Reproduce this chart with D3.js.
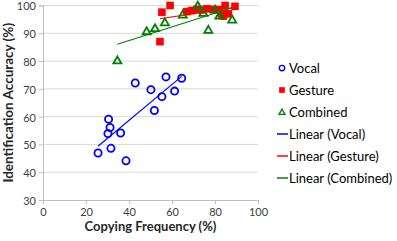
<!DOCTYPE html>
<html>
<head>
<meta charset="utf-8">
<script src="https://cdn.jsdelivr.net/npm/d3@7"></script>
<style>
  body { margin: 0; background: #fff; }
  svg text { font-family: "Lato", "Open Sans", sans-serif; }
</style>
</head>
<body>
<div id="chart"></div>
<script>
// copying frequency (%) vs identification accuracy (%)
const vocalX = [42.9, 50.2, 57.2, 55.3, 51.8, 61.2, 64.5, 30.5, 31.2, 30.2, 36.1, 31.6, 25.6, 38.6];
const vocalY = [72.1, 69.7, 74.3, 67.2, 62.2, 69.2, 73.8, 59.1, 56.1, 53.9, 54.1, 48.6, 46.9, 44.1];

const gestureX = [55.3, 59.1, 54.4, 66.8, 69.2, 71.5, 73.8, 76.1, 79.2, 81.5, 83.1, 84.7, 86.2, 83.9, 89.3];
const gestureY = [97.6, 100, 87.0, 97.8, 98.2, 98.6, 98.4, 98.8, 98.6, 98.5, 97.0, 100, 97.0, 96.2, 99.7];

const combinedX = [34.6, 48.2, 52.1, 56.7, 65.0, 72.0, 74.6, 76.9, 80.0, 82.0, 88.0];
const combinedY = [80.3, 90.8, 91.9, 94.0, 96.8, 100, 97.4, 91.3, 98.6, 96.4, 95.0];

const xTicks = [0, 20, 40, 60, 80, 100];
const yTicks = [30, 40, 50, 60, 70, 80, 90, 100];

const series = [
    {name: "Vocal", xs: vocalX, ys: vocalY, color: "#0000ff", shape: "circle"},
    {name: "Gesture", xs: gestureX, ys: gestureY, color: "#ff0000", shape: "square"},
    {name: "Combined", xs: combinedX, ys: combinedY, color: "#008000", shape: "triangle"}
];

const W = 397, H = 241;
const svg = d3.select("#chart").append("svg").attr("width", W).attr("height", H);

const x = d3.scaleLinear().domain([0, 100]).range([43, 258]);
const y = d3.scaleLinear().domain([30, 100]).range([200, 5.5]);

// gridlines
svg.append("g").selectAll("line").data(yTicks.filter(d => d > 30)).enter()
    .append("line")
    .attr("x1", x(0)).attr("x2", x(100))
    .attr("y1", d => y(d)).attr("y2", d => y(d))
    .attr("stroke", "#d9d9d9").attr("stroke-width", 1);

// axes
const yAxis = svg.append("g").attr("transform", `translate(${x(0)},0)`)
    .call(d3.axisLeft(y).tickValues(yTicks).tickSize(4).tickPadding(3));
const xAxis = svg.append("g").attr("transform", `translate(0,${y(30)})`)
    .call(d3.axisBottom(x).tickValues(xTicks).tickSize(4).tickPadding(4));
[xAxis, yAxis].forEach(function(a) {
    a.selectAll("path, line").attr("stroke", "#bfbfbf");
    a.selectAll("text").attr("fill", "#404040").style("font-size", "11px");
});
yAxis.selectAll("text").attr("dy", "0.4em");

function drawMarker(g, shape, color) {
    if (shape === "circle") {
        g.append("circle").attr("r", 3.6).attr("fill", "none")
            .attr("stroke", color).attr("stroke-width", 1.8);
    } else if (shape === "square") {
        g.append("rect").attr("x", -3.8).attr("y", -3.8).attr("width", 7.6).attr("height", 7.6)
            .attr("fill", color);
    } else {
        g.append("path").attr("d", "M0,-3.8L4,3.2L-4,3.2Z").attr("fill", "none")
            .attr("stroke", color).attr("stroke-width", 1.8).attr("stroke-linejoin", "miter");
    }
}

// points
series.forEach(function(s) {
    const pts = s.xs.map((v, i) => [v, s.ys[i]]);
    svg.append("g").selectAll("g").data(pts).enter()
        .append("g")
        .attr("transform", d => `translate(${x(d[0])},${y(d[1])})`)
        .each(function() { drawMarker(d3.select(this), s.shape, s.color); });
});

// linear trend lines
series.forEach(function(s) {
    const mx = d3.mean(s.xs), my = d3.mean(s.ys);
    let sxy = 0, sxx = 0;
    s.xs.forEach(function(v, i) { sxy += (v - mx) * (s.ys[i] - my); sxx += (v - mx) * (v - mx); });
    const b = sxy / sxx, a = my - b * mx;
    const x0 = d3.min(s.xs), x1 = d3.max(s.xs);
    svg.append("line")
        .attr("x1", x(x0)).attr("y1", y(a + b * x0))
        .attr("x2", x(x1)).attr("y2", y(a + b * x1))
        .attr("stroke", s.color).attr("stroke-width", 1.2);
});

// axis titles
svg.append("text")
    .attr("x", x(50)).attr("y", 231)
    .attr("text-anchor", "middle")
    .attr("fill", "#262626")
    .style("font-size", "13px").style("font-weight", "bold")
    .text("Copying Frequency (%)");
svg.append("text")
    .attr("transform", `translate(13,${y(65)}) rotate(-90)`)
    .attr("text-anchor", "middle")
    .attr("fill", "#262626")
    .style("font-size", "13.5px").style("font-weight", "bold")
    .text("Identification Accuracy (%)");

// legend
const legend = svg.append("g").attr("transform", "translate(282,68)");
const items = series.map(s => ({label: s.name, s: s, line: false}))
    .concat(series.map(s => ({label: "Linear (" + s.name + ")", s: s, line: true})));
items.forEach(function(d, i) {
    const g = legend.append("g").attr("transform", `translate(0,${i * 22})`);
    if (d.line) {
        g.append("line").attr("x1", -5).attr("x2", 6).attr("y1", 0).attr("y2", 0)
            .attr("stroke", d.s.color).attr("stroke-width", 1.5);
    } else {
        const m = g.append("g").attr("transform", "scale(0.75)");
        drawMarker(m, d.s.shape, d.s.color);
    }
    g.append("text").attr("x", 7).attr("y", 4.5)
        .attr("fill", "#000")
        .style("font-size", "13px")
        .text(d.label);
});
</script>
</body>
</html>
